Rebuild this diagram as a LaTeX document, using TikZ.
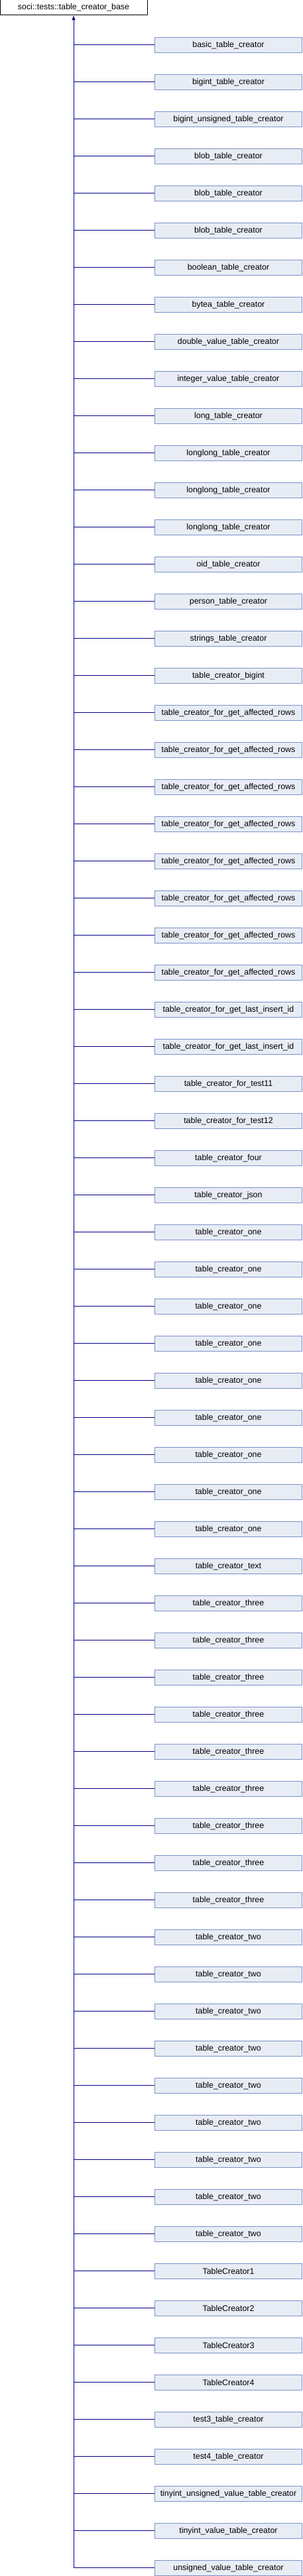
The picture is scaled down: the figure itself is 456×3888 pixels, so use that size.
\documentclass[tikz,border=0pt]{standalone}
\usepackage{fontspec}
\setmainfont{Liberation Sans}
\usetikzlibrary{arrows.meta}

\definecolor{boxfill}{RGB}{232,236,244}
\definecolor{boxline}{RGB}{124,146,200}
\definecolor{edgeblue}{RGB}{0,0,136}

\tikzset{
  classbox/.style={draw=boxline,fill=boxfill,line width=1pt,minimum width=222pt,
    minimum height=23pt,inner sep=0pt,font=\fontsize{12.4}{14}\selectfont},
  basebox/.style={classbox,draw=black,fill=white},
  inherit/.style={draw=edgeblue,line width=1pt},
}

\begin{document}
\begin{tikzpicture}[x=1pt,y=-1pt]
\useasboundingbox (0,0) rectangle (456,3888);
\node[basebox] (base) at (111,11.5) {soci::tests::table\_creator\_base};
% derived classes
\foreach \name [count=\i] in {basic\_table\_creator,bigint\_table\_creator,
  bigint\_unsigned\_table\_creator,blob\_table\_creator,blob\_table\_creator,
  blob\_table\_creator,boolean\_table\_creator,bytea\_table\_creator,
  double\_value\_table\_creator,integer\_value\_table\_creator,long\_table\_creator,
  longlong\_table\_creator,longlong\_table\_creator,longlong\_table\_creator,
  oid\_table\_creator,person\_table\_creator,strings\_table\_creator,
  table\_creator\_bigint,
  table\_creator\_for\_get\_affected\_rows,table\_creator\_for\_get\_affected\_rows,
  table\_creator\_for\_get\_affected\_rows,table\_creator\_for\_get\_affected\_rows,
  table\_creator\_for\_get\_affected\_rows,table\_creator\_for\_get\_affected\_rows,
  table\_creator\_for\_get\_affected\_rows,table\_creator\_for\_get\_affected\_rows,
  table\_creator\_for\_get\_last\_insert\_id,table\_creator\_for\_get\_last\_insert\_id,
  table\_creator\_for\_test11,table\_creator\_for\_test12,table\_creator\_four,
  table\_creator\_json,
  table\_creator\_one,table\_creator\_one,table\_creator\_one,table\_creator\_one,
  table\_creator\_one,table\_creator\_one,table\_creator\_one,table\_creator\_one,
  table\_creator\_one,table\_creator\_text,
  table\_creator\_three,table\_creator\_three,table\_creator\_three,
  table\_creator\_three,table\_creator\_three,table\_creator\_three,
  table\_creator\_three,table\_creator\_three,table\_creator\_three,
  table\_creator\_two,table\_creator\_two,table\_creator\_two,table\_creator\_two,
  table\_creator\_two,table\_creator\_two,table\_creator\_two,table\_creator\_two,
  table\_creator\_two,
  TableCreator1,TableCreator2,TableCreator3,TableCreator4,
  test3\_table\_creator,test4\_table\_creator,
  tinyint\_unsigned\_value\_table\_creator,tinyint\_value\_table\_creator,
  unsigned\_value\_table\_creator}{
  \node[classbox] (c\i) at (344.5,{67.8+56*(\i-1)}) {\name};
  \coordinate (j\i) at (base.south |- c\i.west);
  \draw[inherit] (c\i.west) -- (j\i);
}
% trunk up to the base class
\draw[inherit,-{Triangle[width=5pt,length=7pt]}] (j69) -- (base.south);
\end{tikzpicture}
\end{document}
